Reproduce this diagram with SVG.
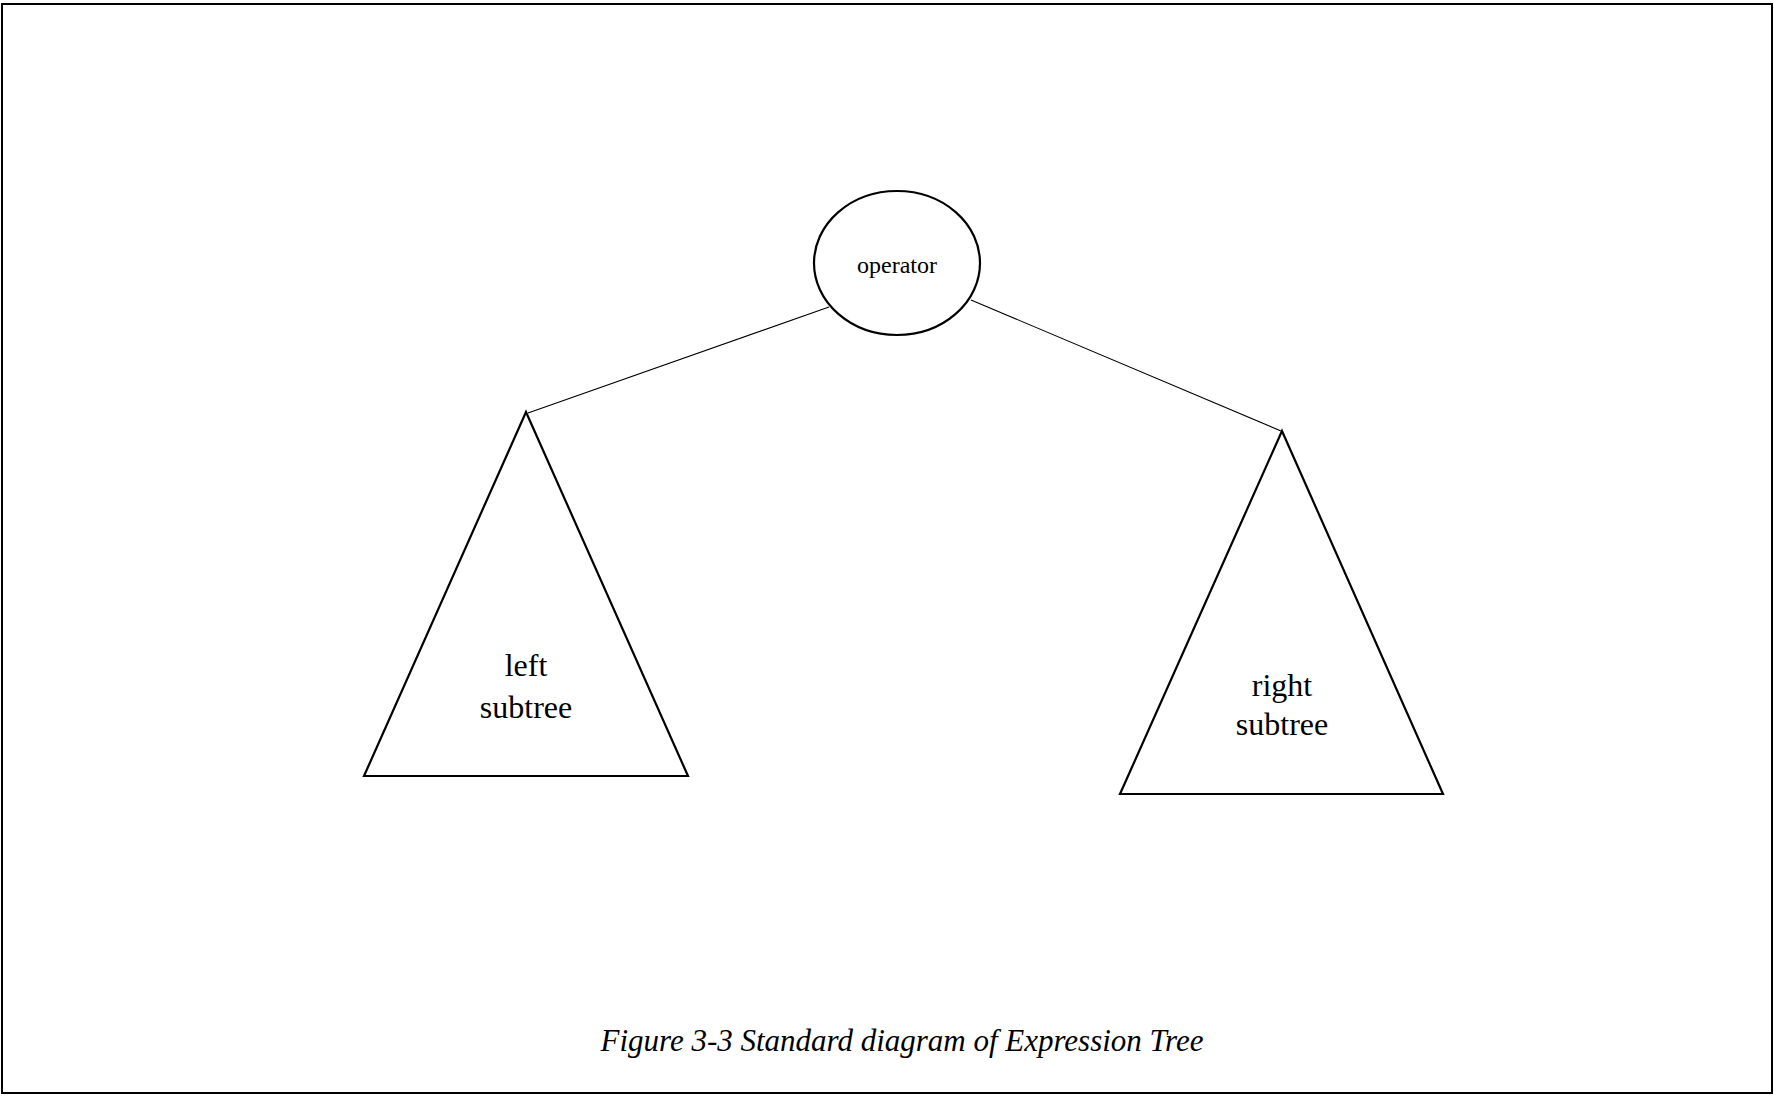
<svg xmlns="http://www.w3.org/2000/svg" width="1774" height="1096" viewBox="0 0 1774 1096">
<style>
.shape{fill:#fff;stroke:#000;stroke-width:2.2}
.conn{stroke:#000;stroke-width:1.1;fill:none}
.lbl{font-family:"Liberation Serif","Times New Roman",serif;fill:#000;text-anchor:middle}
</style>
<rect x="2" y="4" width="1770" height="1089" fill="#fff" stroke="#000" stroke-width="2"/>
<g id="connectors">
<line class="conn" x1="829" y1="307" x2="528" y2="413"/>
<line class="conn" x1="971" y1="300" x2="1281" y2="431"/>
</g>
<g id="operator">
<ellipse class="shape" cx="897" cy="263" rx="83" ry="72"/>
<text class="lbl" x="897" y="273" font-size="24">operator</text>
</g>
<g id="left-subtree">
<polygon class="shape" points="526,412 364,776 688,776"/>
<text class="lbl" x="526" y="676" font-size="32">left</text>
<text class="lbl" x="526" y="718" font-size="32">subtree</text>
</g>
<g id="right-subtree">
<polygon class="shape" points="1282,431 1120,794 1443,794"/>
<text class="lbl" x="1282" y="696" font-size="32">right</text>
<text class="lbl" x="1282" y="735" font-size="32">subtree</text>
</g>
<text class="lbl" x="902" y="1051" font-size="31" font-style="italic" textLength="603">Figure 3-3 Standard diagram of Expression Tree</text>
</svg>
